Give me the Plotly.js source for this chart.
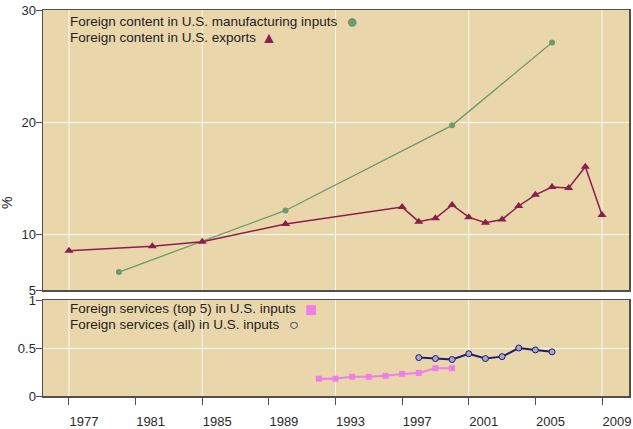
<!DOCTYPE html>
<html>
<head>
<meta charset="utf-8">
<script src="https://cdn.plot.ly/plotly-3.0.1.min.js"></script>
<style>
  html, body { margin: 0; padding: 0; background: #ffffff; }
  #chart { width: 633px; height: 429px; }
</style>
</head>
<body>
<div id="chart"></div>
<script>
// Foreign content in U.S. manufacturing inputs (%)
const mfgYears = [1980, 1990, 2000, 2006];
const mfgValues = [6.6, 12.1, 19.7, 27.1];

// Foreign content in U.S. exports (%)
const expYears = [1977, 1982, 1985, 1990, 1997, 1998, 1999, 2000, 2001, 2002, 2003, 2004, 2005, 2006, 2007, 2008, 2009];
const expValues = [8.5, 8.9, 9.3, 10.9, 12.4, 11.1, 11.4, 12.6, 11.5, 11.0, 11.3, 12.5, 13.5, 14.2, 14.1, 16.0, 11.7];

// Foreign services (top 5) in U.S. inputs (%)
const top5Years = [1992, 1993, 1994, 1995, 1996, 1997, 1998, 1999, 2000];
const top5Values = [0.18, 0.18, 0.20, 0.20, 0.21, 0.23, 0.24, 0.29, 0.29];

// Foreign services (all) in U.S. inputs (%)
const allYears = [1998, 1999, 2000, 2001, 2002, 2003, 2004, 2005, 2006];
const allValues = [0.40, 0.39, 0.38, 0.44, 0.39, 0.41, 0.50, 0.48, 0.46];

// Axis ticks
const xTickYears = [1977, 1981, 1985, 1989, 1993, 1997, 2001, 2005, 2009];
const topTicks = [5, 10, 20, 30];
const bottomTicks = [0, 0.5, 1];
const bottomTickText = ['0', '0.5', '1'];

const legendTop = [
  'Foreign content in U.S. manufacturing inputs',
  'Foreign content in U.S. exports'
];
const legendBottom = [
  'Foreign services (top 5) in U.S. inputs',
  'Foreign services (all) in U.S. inputs'
];

const FONT = 'Liberation Sans, Arial, sans-serif';
const GREEN = '#6c9a6a';
const MAROON = '#8c1d4d';
const PINK = '#ee7fe8';
const NAVY = '#1c1c72';
const GRID = 'rgba(255,255,255,0.85)';
const AXIS = '#505050';

const traces = [
  {
    x: mfgYears, y: mfgValues, xaxis: 'x', yaxis: 'y',
    type: 'scatter', mode: 'lines+markers',
    line: { color: GREEN, width: 1.3 },
    marker: { symbol: 'circle', size: 6, color: GREEN }
  },
  {
    x: expYears, y: expValues, xaxis: 'x', yaxis: 'y',
    type: 'scatter', mode: 'lines+markers',
    line: { color: MAROON, width: 1.5 },
    marker: { symbol: 'triangle-up', size: 8, color: MAROON }
  },
  {
    x: top5Years, y: top5Values, xaxis: 'x2', yaxis: 'y2',
    type: 'scatter', mode: 'lines+markers',
    line: { color: PINK, width: 2 },
    marker: { symbol: 'square', size: 6, color: PINK }
  },
  {
    x: allYears, y: allValues, xaxis: 'x2', yaxis: 'y2',
    type: 'scatter', mode: 'lines+markers',
    line: { color: NAVY, width: 2 },
    marker: { symbol: 'circle', size: 6, color: '#a9a6cf', line: { color: NAVY, width: 1 } }
  }
];

// Vertical grid every 8 years, ticks every 4
const shapes = [];
for (let yr = xTickYears[0]; yr <= xTickYears[xTickYears.length - 1]; yr += 8) {
  ['', '2'].forEach(function (s) {
    shapes.push({
      type: 'line', layer: 'below',
      xref: 'x' + s, yref: 'y' + s + ' domain',
      x0: yr, x1: yr, y0: 0, y1: 1,
      line: { color: GRID, width: 1 }
    });
  });
}

const xRange = [1975.44, 2010.62];
const tickFont = { family: FONT, size: 13, color: '#2a2a2a' };
const legendFont = { family: FONT, size: 13.5, color: '#222' };

// Legend rows: label text, then its key glyph to the right
function legendRow(label, y, glyph, color, glyphSize, glyphX) {
  return [
    {
      xref: 'paper', yref: 'paper', x: 0.043, y: y,
      xanchor: 'left', yanchor: 'middle', showarrow: false,
      text: label, font: legendFont
    },
    {
      xref: 'paper', yref: 'paper', x: glyphX, y: y,
      xanchor: 'center', yanchor: 'middle', showarrow: false,
      text: glyph, font: { family: FONT, size: glyphSize, color: color }
    }
  ];
}

const annotations = [].concat(
  legendRow(legendTop[0], 0.9715, '●', GREEN, 20, 0.527),
  legendRow(legendTop[1], 0.9275, '▲', MAROON, 16, 0.386),
  legendRow(legendBottom[0], 0.2254, '■', PINK, 20, 0.457),
  legendRow(legendBottom[1], 0.1865, '○', NAVY, 16, 0.428),
  [{
    xref: 'paper', yref: 'paper', x: -0.0614, y: 0.5,
    xanchor: 'center', yanchor: 'middle', showarrow: false,
    textangle: -90, text: '%',
    font: { family: FONT, size: 14, color: '#222' }
  }]
);

const layout = {
  width: 633, height: 429,
  margin: { l: 43, r: 4, t: 10, b: 33 },
  paper_bgcolor: '#ffffff',
  plot_bgcolor: '#ead6ab',
  showlegend: false,
  font: { family: FONT, size: 13, color: '#222' },
  xaxis: {
    domain: [0, 1], anchor: 'y', range: xRange, matches: 'x2',
    showgrid: false, zeroline: false, showticklabels: false, ticks: '',
    showline: true, mirror: true, linecolor: AXIS, linewidth: 1.5
  },
  yaxis: {
    domain: [0.2746, 1], anchor: 'x', range: [5, 30],
    tickmode: 'array', tickvals: topTicks,
    ticks: 'outside', ticklen: 6, tickcolor: AXIS, ticklabelstandoff: -3,
    showgrid: true, gridcolor: GRID, gridwidth: 1, zeroline: false,
    showline: true, mirror: true, linecolor: AXIS, linewidth: 1.5,
    tickfont: tickFont
  },
  xaxis2: {
    domain: [0, 1], anchor: 'y2', range: xRange,
    tickmode: 'array', tickvals: xTickYears, ticktext: xTickYears.map(String),
    ticks: 'outside', ticklen: 7, tickcolor: AXIS, ticklabelshift: 15, ticklabelstandoff: 6,
    showgrid: false, zeroline: false,
    showline: true, mirror: true, linecolor: AXIS, linewidth: 1.5,
    tickfont: tickFont
  },
  yaxis2: {
    domain: [0, 0.2487], anchor: 'x2', range: [0, 1],
    tickmode: 'array', tickvals: bottomTicks, ticktext: bottomTickText,
    ticks: 'outside', ticklen: 6, tickcolor: AXIS, ticklabelstandoff: -3,
    showgrid: true, gridcolor: GRID, gridwidth: 1, zeroline: false,
    showline: true, mirror: true, linecolor: AXIS, linewidth: 1.5,
    tickfont: tickFont
  },
  shapes: shapes,
  annotations: annotations
};

Plotly.newPlot('chart', traces, layout, { displayModeBar: false, staticPlot: true });
</script>
</body>
</html>
